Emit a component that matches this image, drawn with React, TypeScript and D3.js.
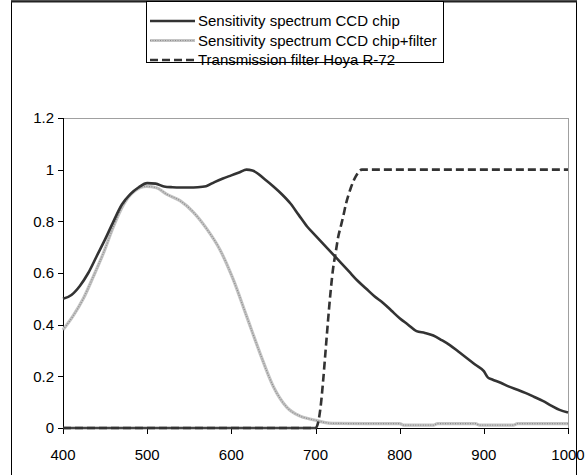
import React from 'react';
import * as d3 from 'd3';

// ── Data ────────────────────────────────────────────────────────────────────
const ccdWl = [400, 410, 420, 430, 440, 450, 460, 470, 480, 490, 500, 510, 520, 530, 540, 550, 560, 570, 580, 590, 600, 610, 618, 625, 640, 650, 660, 670, 680, 690, 700, 710, 720, 730, 740, 750, 760, 770, 780, 790, 800, 810, 820, 830, 840, 850, 860, 870, 880, 890, 900, 905, 910, 920, 930, 940, 950, 960, 970, 980, 990, 1000];
const ccdVal = [0.5, 0.515, 0.55, 0.6, 0.665, 0.73, 0.8, 0.865, 0.905, 0.932, 0.948, 0.946, 0.935, 0.932, 0.931, 0.931, 0.932, 0.936, 0.952, 0.966, 0.978, 0.99, 1.0, 0.997, 0.962, 0.935, 0.905, 0.87, 0.825, 0.78, 0.745, 0.71, 0.675, 0.64, 0.605, 0.57, 0.54, 0.51, 0.485, 0.455, 0.425, 0.4, 0.375, 0.368, 0.358, 0.34, 0.32, 0.295, 0.27, 0.245, 0.22, 0.195, 0.188, 0.175, 0.16, 0.148, 0.135, 0.12, 0.105, 0.087, 0.07, 0.06];

const filtCcdWl = [400, 412, 424, 436, 448, 460, 472, 485, 499, 511, 523, 539, 555, 571, 586, 602, 618, 634, 650, 666, 681, 693, 700, 710, 720, 760, 800, 805, 840, 845, 890, 895, 935, 940, 1000];
const filtCcdVal = [0.38, 0.434, 0.5, 0.586, 0.677, 0.78, 0.865, 0.917, 0.935, 0.93, 0.905, 0.88, 0.835, 0.77, 0.693, 0.577, 0.434, 0.29, 0.16, 0.08, 0.047, 0.035, 0.03, 0.022, 0.018, 0.017, 0.017, 0.011, 0.011, 0.017, 0.017, 0.011, 0.011, 0.017, 0.017];

const filterWl = [400, 700, 703, 706, 709, 712, 715, 718, 721, 724, 727, 730, 733, 736, 739, 742, 745, 748, 751, 755, 1000];
const filterVal = [0, 0, 0.02, 0.08, 0.18, 0.3, 0.42, 0.53, 0.62, 0.68, 0.74, 0.78, 0.82, 0.865, 0.9, 0.93, 0.955, 0.975, 0.99, 1.0, 1.0];

const xTicks = [400, 500, 600, 700, 800, 900, 1000];
const yTicks = [0, 0.2, 0.4, 0.6, 0.8, 1, 1.2];

const legendLabels = [
  'Sensitivity spectrum CCD chip',
  'Sensitivity spectrum CCD chip+filter',
  'Transmission filter Hoya R-72',
];

const FONT = '"Liberation Sans", Arial, sans-serif';

export default function App() {
  const W = 587, H = 475;
  const plot = { left: 63, right: 568, top: 118, bottom: 428 };

  const x = d3.scaleLinear().domain([400, 1000]).range([plot.left, plot.right]);
  const y = d3.scaleLinear().domain([0, 1.2]).range([plot.bottom, plot.top]);

  const line = d3.line<[number, number]>().x(d => x(d[0])).y(d => y(d[1])).curve(d3.curveMonotoneX);
  const zip = (a: number[], b: number[]) => a.map((v, i) => [v, b[i]] as [number, number]);

  const ccdPath = line(zip(ccdWl, ccdVal)) || '';
  const filtCcdPath = line(zip(filtCcdWl, filtCcdVal)) || '';
  const filterPath = line(zip(filterWl, filterVal)) || '';
  // the zero stretch of the filter curve sits on the axis and reads as a solid line
  const filterZero = zip(filterWl, filterVal).filter(d => d[1] === 0);
  const filterZeroPath = d3.line<[number, number]>().x(d => x(d[0])).y(d => y(d[1]))(filterZero) || '';

  // legend box
  const lg = { x: 146, y: 1, w: 297, h: 61, row: 19.5 };

  return (
    <svg width={W} height={H} style={{ position: 'absolute', left: 0, top: 0, background: '#fff' }}>
      {/* outer chart border */}
      <rect x={11.5} y={1} width={565} height={480} fill="none" stroke="#000" strokeWidth={1} />
      <line x1={11} x2={577} y1={1.5} y2={1.5} stroke="#222" strokeWidth={2} />

      {/* plot area frame (top/right gray) */}
      <line x1={plot.left} x2={plot.right} y1={plot.top + 0.5} y2={plot.top + 0.5} stroke="#a0a0a0" />
      <line x1={plot.right + 0.5} x2={plot.right + 0.5} y1={plot.top} y2={plot.bottom} stroke="#a0a0a0" />

      {/* axes */}
      <line x1={plot.left + 0.5} x2={plot.left + 0.5} y1={plot.top} y2={plot.bottom} stroke="#000" />
      <line x1={plot.left} x2={plot.right} y1={plot.bottom + 0.5} y2={plot.bottom + 0.5} stroke="#000" />
      {yTicks.map(t => (
        <g key={'y' + t}>
          <line x1={plot.left - 5} x2={plot.left} y1={Math.round(y(t)) + 0.5} y2={Math.round(y(t)) + 0.5} stroke="#000" />
          <text x={plot.left - 9} y={y(t)} dy="0.36em" textAnchor="end" fontFamily={FONT} fontSize={15} fill="#000">
            {d3.format('~g')(t)}
          </text>
        </g>
      ))}
      {xTicks.map(t => (
        <g key={'x' + t}>
          <line x1={Math.round(x(t)) + 0.5} x2={Math.round(x(t)) + 0.5} y1={plot.bottom} y2={plot.bottom + 6} stroke="#000" />
          <text x={x(t)} y={plot.bottom + 32} textAnchor="middle" fontFamily={FONT} fontSize={15} fill="#000">
            {t}
          </text>
        </g>
      ))}

      {/* series */}
      <path d={filtCcdPath} fill="none" stroke="#c4c4c4" strokeWidth={3.2} />
      <path d={filtCcdPath} fill="none" stroke="#8e8e8e" strokeWidth={1.2} strokeDasharray="1,1.5" />
      <path d={filterZeroPath} fill="none" stroke="#444" strokeWidth={2.4} />
      <path d={filterPath} fill="none" stroke="#333" strokeWidth={2.6} strokeDasharray="8,4" />
      <path d={ccdPath} fill="none" stroke="#333" strokeWidth={2.6} />

      {/* legend */}
      <rect x={lg.x + 0.5} y={lg.y + 0.5} width={lg.w} height={lg.h} fill="#fff" stroke="#000" />
      {legendLabels.map((lab, i) => {
        const cy = lg.y + 20 + i * lg.row;
        const x1 = lg.x + 4, x2 = lg.x + 49;
        return (
          <g key={lab}>
            {i === 0 && <line x1={x1} x2={x2} y1={cy} y2={cy} stroke="#333" strokeWidth={2.6} />}
            {i === 1 && (
              <>
                <line x1={x1} x2={x2} y1={cy} y2={cy} stroke="#c4c4c4" strokeWidth={3.2} />
                <line x1={x1} x2={x2} y1={cy} y2={cy} stroke="#8e8e8e" strokeWidth={1.2} strokeDasharray="1,1.5" />
              </>
            )}
            {i === 2 && <line x1={x1} x2={x2} y1={cy} y2={cy} stroke="#333" strokeWidth={2.6} strokeDasharray="8,4" />}
            <text x={lg.x + 52} y={cy} dy="0.36em" fontFamily={FONT} fontSize={15} fill="#000">{lab}</text>
          </g>
        );
      })}
    </svg>
  );
}
